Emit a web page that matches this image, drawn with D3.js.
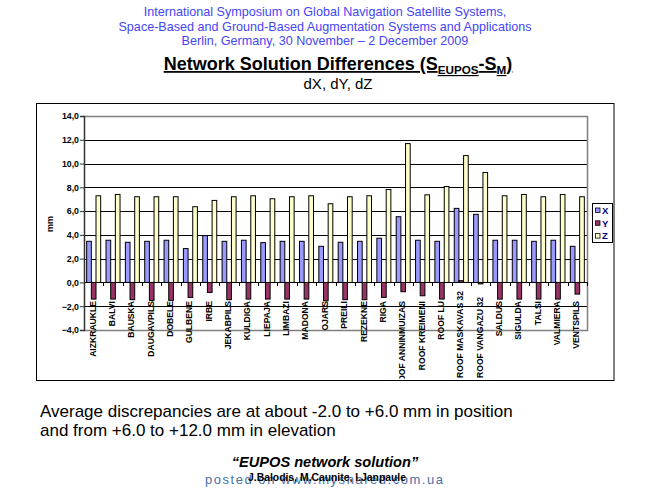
<!DOCTYPE html>
<html>
<head>
<meta charset="utf-8">
<script src="https://cdn.jsdelivr.net/npm/d3@7"></script>
<style>
  html, body { margin: 0; padding: 0; background: #fff; }
  svg { display: block; font-family: "Liberation Sans", Arial, sans-serif; }
</style>
</head>
<body>
<svg id="chart" width="650" height="488"></svg>
<script>
// ---- data ----
const headerLines = [
  "International Symposium on Global Navigation Satellite Systems,",
  "Space-Based and Ground-Based Augmentation Systems and Applications",
  "Berlin, Germany, 30 November \u2013 2 December 2009"
];
const categories = [
  "AIZKRAUKLE", "BALVI", "BAUSKA", "DAUGAVPILS", "DOBELE", "GULBENE", "IRBE",
  "JEKABPILS", "KULDIGA", "LIEPAJA", "LIMBAZI", "MADONA", "OJARS", "PREILI",
  "REZEKNE", "RIGA", "ROOF ANNINMUIZAS", "ROOF KREIMENI", "ROOF LU",
  "ROOF MASKAVAS 32", "ROOF VANGAZU 32", "SALDUS", "SIGULDA", "TALSI",
  "VALMIERA", "VENTSPILS"
];
const seriesNames = ["X", "Y", "Z"];
const xValues = [3.46, 3.55, 3.38, 3.46, 3.55, 2.85, 3.94, 3.46, 3.55, 3.35, 3.46, 3.46, 3.04,
                 3.38, 3.46, 3.72, 5.53, 3.55, 3.46, 6.23, 5.73, 3.55, 3.55, 3.46, 3.55, 3.04];
const yValues = [-1.40, -1.40, -1.45, -1.51, -1.51, -1.26, -0.84, -1.45, -1.40, -1.40, -1.40, -1.40, -1.54,
                 -1.45, -1.45, -1.26, -0.78, -1.12, -1.40, 0.15, -0.12, -1.40, -1.40, -1.40, -1.40, -0.98];
const zValues = [7.29, 7.40, 7.21, 7.21, 7.21, 6.37, 6.90, 7.21, 7.29, 7.04, 7.21, 7.29, 6.62,
                 7.21, 7.29, 7.82, 11.68, 7.37, 8.07, 10.67, 9.25, 7.29, 7.40, 7.21, 7.40, 7.21];
const yTicks = [-4, -2, 0, 2, 4, 6, 8, 10, 12, 14];
const yAxisTitle = "mm";
const seriesColors = ["#9999FF", "#993366", "#FFFFCC"];
const bottomLine1 = "Average discrepancies are at about -2.0 to +6.0 mm in position";
const bottomLine2 = "and from +6.0 to +12.0 mm in elevation";
const quoteText = "\u201CEUPOS network solution\u201D";
const watermark = "posted on www.myshared.com.ua";
const authors = "J.Balodis, M.Caunite, I.Janpaule";

// ---- drawing ----
const svg = d3.select("#chart");
svg.append("rect").attr("width", 650).attr("height", 488).attr("fill", "#fff");

// header
svg.selectAll("text.hdr").data(headerLines).join("text")
  .attr("class", "hdr")
  .attr("x", 325).attr("y", (d, i) => 16 + i * 14.5)
  .attr("text-anchor", "middle")
  .attr("font-size", 12.6).attr("fill", "#4545f5")
  .text(d => d);

// title
const title = svg.append("text")
  .attr("x", 338).attr("y", 70)
  .attr("text-anchor", "middle")
  .attr("font-size", 18).attr("font-weight", "bold")
  .attr("text-decoration", "underline")
  .attr("fill", "#000");
title.append("tspan").text("Network Solution Differences (S");
title.append("tspan").attr("font-size", 11.7).attr("dy", 4).text("EUPOS");
title.append("tspan").attr("dy", -4).text("-S");
title.append("tspan").attr("font-size", 11.7).attr("dy", 4).text("M");
title.append("tspan").attr("dy", -4).text(")");

svg.append("text")
  .attr("x", 338).attr("y", 89)
  .attr("text-anchor", "middle")
  .attr("font-size", 15).attr("fill", "#000")
  .text("dX, dY, dZ");

// chart box
svg.append("rect")
  .attr("x", 36.5).attr("y", 103.5).attr("width", 577.5).attr("height", 277)
  .attr("fill", "none").attr("stroke", "#000").attr("stroke-width", 1);

const plot = { left: 84, right: 587, top: 116, bottom: 330 };
const y = d3.scaleLinear().domain([-4, 14]).range([plot.bottom, plot.top]);
const x = d3.scaleBand().domain(categories).range([plot.left, plot.right])
  .paddingInner(0.276).paddingOuter(0.138);
const xs = d3.scaleBand().domain(seriesNames).range([0, x.bandwidth()]);

// gridlines
svg.append("g").selectAll("line").data(yTicks.filter(t => t > -4 && t < 14)).join("line")
  .attr("x1", plot.left).attr("x2", plot.right)
  .attr("y1", d => Math.round(y(d)) + 0.5).attr("y2", d => Math.round(y(d)) + 0.5)
  .attr("stroke", "#000").attr("stroke-width", 1);

// plot border (gray) top, right, bottom
svg.append("path")
  .attr("d", `M${plot.left},${Math.round(y(14)) + 0.5}H${plot.right + 0.5}V${Math.round(y(-4)) + 0.5}H${plot.left}`)
  .attr("fill", "none").attr("stroke", "#808080").attr("stroke-width", 1.5);

// bars
const seriesData = [xValues, yValues, zValues];
const rows = [];
categories.forEach((c, i) => {
  seriesNames.forEach((s, j) => rows.push({ c, s, j, v: seriesData[j][i] }));
});
svg.append("g").selectAll("rect").data(rows).join("rect")
  .attr("x", d => x(d.c) + xs(d.s))
  .attr("width", xs.bandwidth())
  .attr("y", d => Math.min(y(d.v), y(0)))
  .attr("height", d => Math.abs(y(d.v) - y(0)))
  .attr("fill", d => seriesColors[d.j])
  .attr("stroke", "#000").attr("stroke-width", 1);

// zero axis line
svg.append("line")
  .attr("x1", plot.left).attr("x2", plot.right)
  .attr("y1", Math.round(y(0)) + 0.5).attr("y2", Math.round(y(0)) + 0.5)
  .attr("stroke", "#000").attr("stroke-width", 1.2);

// category ticks
const step = x.step();
svg.append("g").selectAll("line").data(d3.range(categories.length + 1)).join("line")
  .attr("x1", i => Math.round(plot.left + i * step) + 0.5)
  .attr("x2", i => Math.round(plot.left + i * step) + 0.5)
  .attr("y1", Math.round(y(0))).attr("y2", Math.round(y(0)) + 4)
  .attr("stroke", "#000");

// y axis
const yAxis = d3.axisLeft(y).tickValues(yTicks).tickSizeOuter(0).tickSize(4)
  .tickFormat(d => d3.format(".1f")(d).replace(".", ","));
const gy = svg.append("g").attr("transform", `translate(${plot.left},0)`).call(yAxis);
gy.select(".domain").attr("stroke", "#333").attr("stroke-width", 1.5);
gy.selectAll(".tick line").attr("stroke", "#333");
gy.selectAll(".tick text")
  .attr("font-family", "'Liberation Sans', Arial, sans-serif")
  .attr("font-size", 8.8).attr("font-weight", "bold").attr("fill", "#000")
  .attr("x", -5);

// y axis title
svg.append("text")
  .attr("transform", "translate(50,224) rotate(-90)")
  .attr("text-anchor", "middle").attr("dy", "0.35em")
  .attr("font-size", 9).attr("font-weight", "bold").attr("fill", "#000")
  .text(yAxisTitle);

// category labels (clipped at chart box)
svg.append("clipPath").attr("id", "lblclip").append("rect")
  .attr("x", 36).attr("y", 103).attr("width", 578).attr("height", 275.5);
const lblG = svg.append("g").attr("clip-path", "url(#lblclip)");
const lbls = lblG.selectAll("text").data(categories).join("text")
  .attr("text-anchor", "end").attr("dy", "0.35em")
  .attr("font-size", 8.6).attr("font-weight", "bold").attr("fill", "#000")
  .text(d => d);
lbls.each(function (d) {
  const len = this.getComputedTextLength();
  let top = 301;
  // labels ending with a number are lifted so they fit inside the box
  if (/\d$/.test(d) && len > 77) top = 378 - len;
  d3.select(this).attr("transform", `translate(${x(d) + x.bandwidth() / 2 - 1},${top}) rotate(-90)`);
});

// legend
const lg = svg.append("g");
lg.append("rect").attr("x", 592.5).attr("y", 203.5).attr("width", 20).attr("height", 39)
  .attr("fill", "#fff").attr("stroke", "#000");
seriesNames.forEach((s, j) => {
  const cy = 210.5 + j * 12.8;
  lg.append("rect").attr("x", 595.5).attr("y", cy - 2.5).attr("width", 4.5).attr("height", 4.5)
    .attr("fill", seriesColors[j]).attr("stroke", "#000").attr("stroke-width", 0.8);
  lg.append("text").attr("x", 602).attr("y", cy).attr("dy", "0.35em")
    .attr("font-size", 9.5).attr("font-weight", "bold").attr("fill", "#000080").text(s);
});

// bottom text
svg.append("text").attr("x", 40).attr("y", 417).attr("font-size", 17).attr("fill", "#000").text(bottomLine1);
svg.append("text").attr("x", 40).attr("y", 436).attr("font-size", 17).attr("fill", "#000").text(bottomLine2);
svg.append("text").attr("x", 325).attr("y", 467).attr("text-anchor", "middle")
  .attr("font-size", 14.6).attr("font-weight", "bold").attr("font-style", "italic")
  .attr("fill", "#000").text(quoteText);
svg.append("text").attr("x", 205).attr("y", 484)
  .attr("font-size", 13).attr("fill", "#4a6fa5")
  .attr("textLength", 238).attr("lengthAdjust", "spacing")
  .text(watermark);
svg.append("text").attr("x", 248).attr("y", 481)
  .attr("font-size", 10).attr("font-weight", "bold").attr("fill", "#000")
  .attr("textLength", 158).attr("lengthAdjust", "spacingAndGlyphs")
  .text(authors);
</script>
</body>
</html>
